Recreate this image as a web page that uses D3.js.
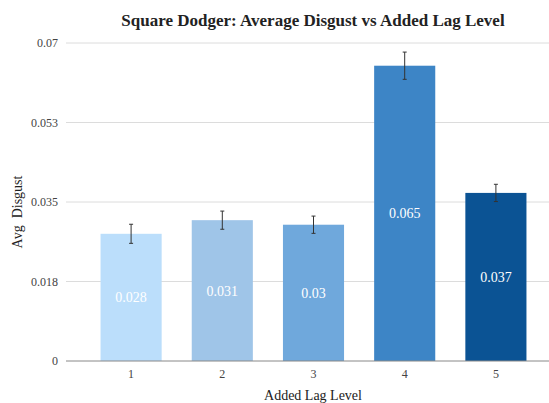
<!DOCTYPE html>
<html><head><meta charset="utf-8">
<script src="https://cdn.jsdelivr.net/npm/d3@7"></script>
<style>body{margin:0;background:#fff}</style>
</head><body>
<svg id="c" width="549" height="403"></svg>
<script>
const categories = ["1","2","3","4","5"];
const values = [0.028, 0.031, 0.030, 0.065, 0.037];
const errors = [0.0021, 0.0020, 0.0019, 0.0030, 0.0019];
const labels = ["0.028","0.031","0.03","0.065","0.037"];
const colors = ["#bbdefb","#9fc5e8","#6fa8dc","#3d85c6","#0b5394"];
const yTicks = [0, 0.0175, 0.035, 0.0525, 0.07];
const yTickLabels = ["0","0.018","0.035","0.053","0.07"];

const svg = d3.select("#c");
const font = "'Liberation Serif','Times New Roman',serif";
const gridL = 66, gridR = 549;
const y = d3.scaleLinear().domain([0, 0.07]).range([361, 43]);
const x = d3.scaleBand().domain(categories).range([85.5, 541.5]).paddingInner(0.33).paddingOuter(0.165);

svg.append("g").selectAll("line").data(yTicks.slice(1)).join("line")
  .attr("x1", gridL).attr("x2", gridR)
  .attr("y1", d => y(d)).attr("y2", d => y(d))
  .attr("stroke", "#dcdcdc").attr("stroke-width", 1);

svg.append("g").selectAll("text").data(yTicks).join("text")
  .attr("x", 58).attr("y", d => y(d) + 4)
  .attr("text-anchor", "end").attr("font-family", font).attr("font-size", 12).attr("fill", "#444")
  .text((d, i) => yTickLabels[i]);

svg.append("g").selectAll("rect").data(values).join("rect")
  .attr("x", (d, i) => x(categories[i])).attr("width", x.bandwidth())
  .attr("y", d => y(d)).attr("height", d => y(0) - y(d))
  .attr("fill", (d, i) => colors[i]);

svg.append("line").attr("x1", gridL).attr("x2", gridR).attr("y1", y(0)).attr("y2", y(0))
  .attr("stroke", "#888").attr("stroke-width", 1);

const eg = svg.append("g").attr("stroke", "#333").attr("stroke-width", 1);
values.forEach((v, i) => {
  const cx = x(categories[i]) + x.bandwidth() / 2;
  const t = y(v + errors[i]), b = y(v - errors[i]);
  eg.append("line").attr("x1", cx).attr("x2", cx).attr("y1", t).attr("y2", b);
  eg.append("line").attr("x1", cx - 2).attr("x2", cx + 2).attr("y1", t).attr("y2", t);
  eg.append("line").attr("x1", cx - 2).attr("x2", cx + 2).attr("y1", b).attr("y2", b);
});

svg.append("g").selectAll("text").data(values).join("text")
  .attr("x", (d, i) => x(categories[i]) + x.bandwidth() / 2)
  .attr("y", d => (y(d) + y(0)) / 2 + 5)
  .attr("text-anchor", "middle").attr("font-family", font).attr("font-size", 14).attr("fill", "#fff")
  .text((d, i) => labels[i]);

svg.append("g").selectAll("text").data(categories).join("text")
  .attr("x", d => x(d) + x.bandwidth() / 2).attr("y", 378)
  .attr("text-anchor", "middle").attr("font-family", font).attr("font-size", 12).attr("fill", "#444")
  .text(d => d);

svg.append("text").attr("x", 313).attr("y", 26).attr("text-anchor", "middle")
  .attr("font-family", font).attr("font-size", 17).attr("font-weight", "bold").attr("fill", "#222")
  .text("Square Dodger: Average Disgust vs Added Lag Level");

svg.append("text").attr("x", 313).attr("y", 400).attr("text-anchor", "middle")
  .attr("font-family", font).attr("font-size", 14).attr("fill", "#222")
  .text("Added Lag Level");

svg.append("text").attr("transform", "translate(22,212) rotate(-90)").attr("text-anchor", "middle")
  .attr("font-family", font).attr("font-size", 14).attr("fill", "#222")
  .style("white-space", "pre")
  .text("Avg  Disgust");
</script>
</body></html>
